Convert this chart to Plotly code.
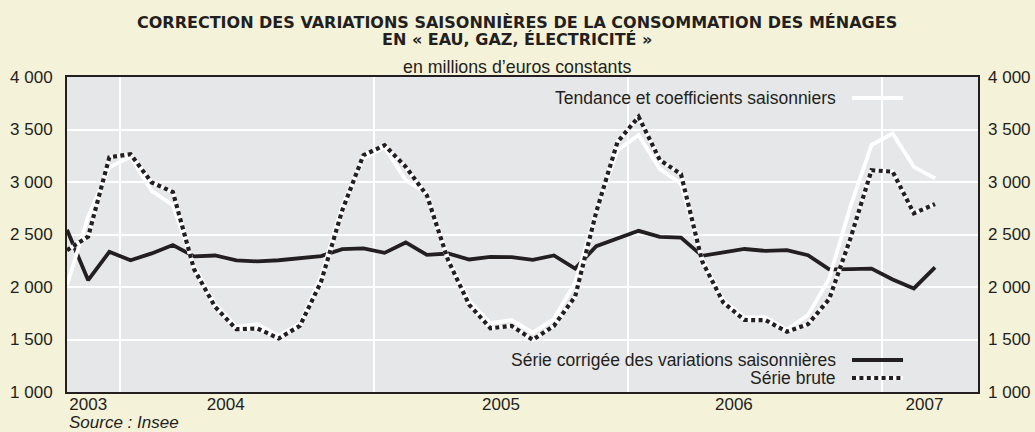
import plotly.graph_objects as go
import pandas as pd

# ---- data (monthly, Oct 2003 -> Mar 2007) ----
months = [str(p) for p in pd.period_range("2003-10", periods=42, freq="M")]

serie_cvs = [2545, 2065, 2335, 2255, 2320, 2400, 2292, 2300, 2253, 2244, 2255, 2272,
             2294, 2360, 2367, 2325, 2424, 2306, 2319, 2262, 2287, 2284, 2258, 2300,
             2176, 2389, 2462, 2535, 2478, 2471, 2297, 2325, 2362, 2344, 2351, 2303,
             2168, 2170, 2175, 2071, 1986, 2186]

serie_brute = [2350, 2480, 3235, 3265, 2995, 2905, 2170, 1810, 1598, 1605, 1510, 1630,
               2050, 2730, 3255, 3350, 3145, 2872, 2255, 1830, 1607, 1630, 1497, 1630,
               1908, 2716, 3380, 3621, 3210, 3075, 2245, 1852, 1686, 1684, 1574, 1645,
               1885, 2460, 3112, 3098, 2702, 2790]

tendance = [2020, 2670, 3140, 3240, 2915, 2780, 2200, 1830, 1625, 1645, 1535, 1650,
            2100, 2770, 3225, 3330, 3018, 2890, 2270, 1865, 1655, 1685, 1565, 1695,
            2040, 2720, 3303, 3446, 3125, 2985, 2270, 1875, 1710, 1710, 1595, 1732,
            2080, 2763, 3351, 3462, 3144, 3034]

year_labels = ["2003", "2004", "2005", "2006", "2007"]
y_tick_vals = [1000, 1500, 2000, 2500, 3000, 3500, 4000]
y_tick_text = ["1 000", "1 500", "2 000", "2 500", "3 000", "3 500", "4 000"]

legend_names = ["Tendance et coefficients saisonniers",
                "Série corrigée des variations saisonnières",
                "Série brute"]

# ---- layout-only values ----
x_idx = list(range(len(months)))
year_label_pos = [1.0, 7.5, 20.5, 31.5, 40.5]
year_grid_pos = [2.5, 14.5, 26.5, 38.5]
x_range = [0, 43.03]

INK = "#231f20"
BG = "#f4f2d8"
PLOT_BG = "#e6e7e9"
FONT = "Liberation Sans, Arial, sans-serif"

fig = go.Figure()

fig.add_trace(go.Scatter(x=x_idx, y=serie_cvs, mode="lines", name=legend_names[1],
                         text=months, line=dict(color=INK, width=3.8),
                         showlegend=False))
fig.add_trace(go.Scatter(x=x_idx, y=tendance, mode="lines", name=legend_names[0],
                         text=months, line=dict(color="#ffffff", width=3.8),
                         showlegend=False))
# white underlay of the dotted raw series
fig.add_trace(go.Scatter(x=x_idx, y=serie_brute, mode="lines", hoverinfo="skip",
                         line=dict(color="#ffffff", width=4.2), showlegend=False))
fig.add_trace(go.Scatter(x=x_idx, y=serie_brute, mode="lines", name=legend_names[2],
                         text=months, line=dict(color=INK, width=4.2, dash="4px,3.4px"),
                         showlegend=False))

fig.update_layout(
    width=1035, height=432,
    margin=dict(l=67, r=57, t=77, b=40, autoexpand=False),
    paper_bgcolor=BG, plot_bgcolor=PLOT_BG,
    font=dict(family=FONT, size=17, color=INK),
    xaxis=dict(
        range=x_range, tickmode="array", tickvals=year_label_pos, ticktext=year_labels,
        showgrid=False, zeroline=False, ticks="", ticklabelstandoff=-4,
        showline=True, linecolor=INK, linewidth=2, mirror=True,
        minor=dict(tickmode="array", tickvals=year_grid_pos, showgrid=True,
                   gridcolor="#ffffff", gridwidth=1.5, ticks=""),
    ),
    yaxis=dict(
        range=[1000, 4000], tickmode="array", tickvals=y_tick_vals, ticktext=y_tick_text,
        showgrid=True, gridcolor="#ffffff", gridwidth=1.5, zeroline=False, ticks="",
        ticklabelstandoff=9,
        showline=True, linecolor=INK, linewidth=2, mirror=True,
    ),
    yaxis2=dict(
        range=[1000, 4000], tickmode="array", tickvals=y_tick_vals, ticktext=y_tick_text,
        overlaying="y", side="right", showgrid=False, zeroline=False, ticks="",
        ticklabelstandoff=9, showline=False,
    ),
    showlegend=False,
)

# make sure the right axis is rendered
fig.add_trace(go.Scatter(x=[None], y=[None], yaxis="y2", showlegend=False, hoverinfo="skip"))

annotations = [
    dict(text="<b>CORRECTION DES VARIATIONS SAISONNIÈRES DE LA CONSOMMATION DES MÉNAGES</b>",
         x=0.4945, y=1.1745, font=dict(family="DejaVu Sans", size=16.0, color=INK)),
    dict(text="<b>EN « EAU, GAZ, ÉLECTRICITÉ »</b>",
         x=0.4945, y=1.118, font=dict(family="DejaVu Sans", size=16.0, color=INK)),
    dict(text="en millions d’euros constants", x=0.4945, y=1.0317,
         font=dict(size=17.8)),
    dict(text="<i>Source : Insee</i>", x=0.0, y=-0.0968, xanchor="left",
         font=dict(size=17)),
]
leg_y = [0.9333, 0.1016, 0.0444]
for name, ly in zip(legend_names, leg_y):
    annotations.append(dict(text=name, x=0.8463, y=ly, xanchor="right",
                            font=dict(size=17.5)))
for a in annotations:
    a.setdefault("xref", "paper")
    a.setdefault("yref", "paper")
    a.setdefault("showarrow", False)
    a.setdefault("xanchor", "center")
    a.setdefault("yanchor", "middle")
fig.update_layout(annotations=annotations)

# legend samples
lx0, lx1 = 0.8617, 0.9177
fig.add_shape(type="line", xref="paper", yref="paper", x0=lx0, x1=lx1, y0=leg_y[0], y1=leg_y[0],
              line=dict(color="#ffffff", width=3.8))
fig.add_shape(type="line", xref="paper", yref="paper", x0=lx0, x1=lx1, y0=leg_y[1], y1=leg_y[1],
              line=dict(color=INK, width=3.8))
fig.add_shape(type="line", xref="paper", yref="paper", x0=lx0, x1=lx1, y0=leg_y[2], y1=leg_y[2],
              line=dict(color="#ffffff", width=4.2))
fig.add_shape(type="line", xref="paper", yref="paper", x0=lx0, x1=lx1, y0=leg_y[2], y1=leg_y[2],
              line=dict(color=INK, width=4.2, dash="4px,3.4px"))

fig.write_html("out.html", config={"displayModeBar": False},
               post_script="document.body.style.margin='0';document.body.style.overflow='hidden';")
